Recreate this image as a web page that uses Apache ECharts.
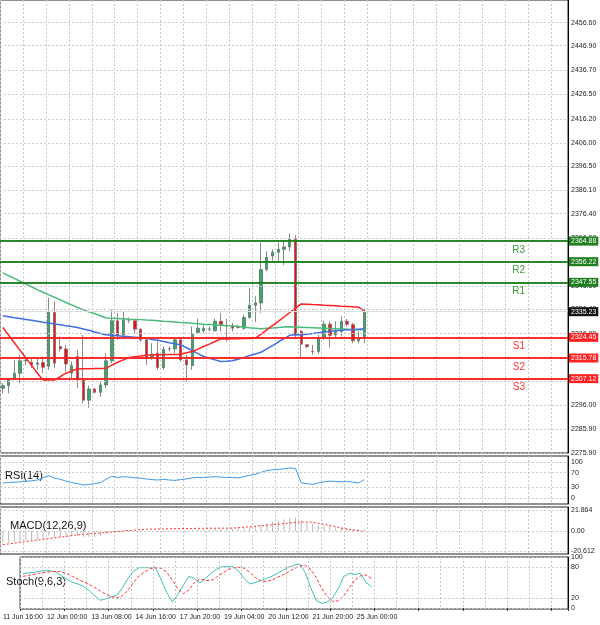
<!DOCTYPE html>
<html><head><meta charset="utf-8">
<script src="https://cdn.jsdelivr.net/npm/echarts@6/dist/echarts.min.js"></script>
<style>html,body{margin:0;padding:0;background:#fff}#c{width:600px;height:625px}</style>
</head><body><div id="c"></div>
<script>
const timeLabels = ['11 Jun 16:00','12 Jun 00:00','13 Jun 08:00','14 Jun 16:00','17 Jun 20:00','19 Jun 04:00','20 Jun 12:00','21 Jun 20:00','25 Jun 00:00'];
// [open, close, low, high]
const candles = [
[2303.1,2304.2,2300.9,2305.2],[2304.2,2306.6,2300.9,2307.3],[2306.9,2309.4,2306.6,2315.0],[2309.4,2314.6,2305.2,2317.1],
[2314.6,2314.7,2312.9,2316.4],[2314.0,2312.9,2311.5,2315.7],[2313.2,2313.7,2310.8,2315.7],[2313.9,2311.9,2309.4,2316.4],
[2312.2,2334.9,2310.8,2341.0],[2334.9,2313.6,2311.5,2339.6],[2320.6,2319.6,2318.5,2324.8],[2319.6,2313.3,2310.1,2321.3],
[2309.4,2312.5,2307.3,2314.3],[2316.4,2306.6,2303.1,2319.2],[2306.6,2298.1,2296.7,2325.5],[2298.1,2302.8,2294.9,2304.2],
[2302.8,2301.4,2300.9,2303.1],[2301.4,2304.5,2299.5,2305.9],[2304.5,2314.6,2303.1,2317.8],[2314.6,2331.4,2313.6,2336.1],
[2331.4,2325.3,2323.4,2334.7],[2325.5,2331.9,2324.8,2335.1],[2331.9,2331.7,2330.5,2332.8],[2331.4,2327.9,2326.2,2331.9],
[2327.9,2323.4,2322.7,2328.3],[2323.4,2316.0,2312.9,2324.4],[2316.0,2317.4,2315.0,2322.0],[2317.8,2311.8,2310.8,2322.7],
[2311.8,2319.5,2310.8,2320.6],[2319.6,2319.7,2318.5,2320.6],[2319.6,2323.4,2317.8,2324.1],[2323.4,2315.0,2314.3,2324.1],
[2315.0,2312.9,2305.9,2317.1],[2312.6,2325.8,2310.8,2329.0],[2326.5,2328.3,2325.8,2332.3],[2327.2,2328.3,2326.2,2329.8],
[2327.9,2328.0,2327.0,2329.0],[2327.2,2331.2,2326.9,2332.3],[2331.2,2329.8,2326.9,2334.7],[2329.5,2329.2,2322.7,2332.3],
[2329.5,2328.3,2326.9,2330.5],[2328.9,2328.6,2328.1,2329.8],[2328.3,2332.8,2327.6,2334.0],[2332.8,2337.9,2332.3,2345.2],
[2337.9,2338.9,2330.9,2341.7],[2338.9,2352.9,2334.7,2364.2],[2352.9,2358.1,2352.2,2360.7],[2358.6,2360.2,2356.7,2361.4],
[2360.2,2361.4,2356.2,2364.2],[2361.4,2362.4,2354.8,2364.9],[2362.4,2365.6,2360.7,2368.0],[2365.6,2325.3,2324.1,2367.4],
[2327.0,2321.6,2316.0,2327.6],[2321.3,2320.6,2319.9,2321.6],[2318.5,2318.4,2317.1,2321.3],[2318.5,2324.4,2317.4,2325.5],
[2324.4,2330.0,2323.4,2331.4],[2330.0,2325.3,2320.2,2331.2],[2325.5,2326.9,2324.4,2331.2],[2326.9,2331.2,2324.8,2333.3],
[2331.2,2330.0,2329.0,2332.3],[2329.8,2323.0,2322.0,2330.5],[2323.0,2323.9,2322.0,2327.0],[2324.4,2335.23,2322.0,2336.8]];
const maRed = [2328.6,2325.4,2322.2,2319,2315.9,2312.7,2309.5,2306.5,2306.5,2306.5,2308,2309.4,2310.4,2311.2,2311.3,2311.3,2311.4,2311.4,2311.5,2312.8,2314,2315,2316,2316.3,2316.6,2316.9,2317.1,2317.2,2317.2,2317.3,2317.3,2317.4,2318,2318.5,2319.5,2320.6,2321.6,2322.7,2323.8,2323.8,2323.9,2323.9,2324,2324,2324.1,2325.8,2327.6,2329.4,2331.2,2333,2334.9,2336.7,2338.5,2338.4,2338.2,2338.1,2337.9,2337.8,2337.7,2337.5,2337.4,2337.3,2337.1,2335.5];
const maBlue = [2333.5,2333.1,2332.7,2332.4,2332,2331.6,2331.2,2330.8,2330.5,2330.1,2329.7,2329.3,2329,2328.6,2328,2327.4,2326.7,2326.1,2325.5,2325.3,2325.1,2324.9,2324.7,2324.5,2324.3,2324.1,2323.6,2323.2,2322.7,2322.2,2321.8,2321.3,2320.1,2318.9,2317.6,2316.4,2315.7,2315,2314.3,2314.4,2314.6,2315.3,2316,2316.8,2317.5,2318.2,2319.6,2321,2322.5,2323.9,2325.3,2325.5,2325.6,2325.8,2326.1,2326.4,2326.7,2327,2327.2,2327.4,2327.6,2327.7,2327.9,2328.1];
const maGreen = [2351.5,2350.3,2349.2,2348,2346.8,2345.7,2344.5,2343.4,2342.3,2341.3,2340.2,2339.1,2338.1,2337,2336.1,2335.2,2334.4,2333.5,2332.6,2332.5,2332.4,2332.3,2332.1,2332,2331.9,2331.7,2331.6,2331.4,2331.2,2331.1,2330.9,2330.7,2330.6,2330.4,2330.2,2330,2329.9,2329.7,2329.5,2329.3,2329.2,2329,2328.8,2328.5,2328.3,2328.1,2328.3,2328.4,2328.6,2328.8,2328.9,2328.8,2328.7,2328.6,2328.5,2328.4,2328.3,2328.2,2328.1,2328,2327.9,2327.8,2327.7,2327.6];
const rsi = [42,43,44,45,46,48,50,56,62,55,52,47,43,40,36,38,40,43,52,60,57,59,58,56,55,53,51,50,52,50,49,51,53,56,57,57,58,59,58,57,57,56,59,63,66,71,76,78,79,81,83,82,42,40,38,42,45,47,46,45,46,44,42,51];
const macdSig = [-14,-13.4,-12.6,-11.8,-11,-10.2,-9.4,-8.6,-7.8,-7,-6.3,-5.6,-4.8,-4,-3.5,-3,-2.5,-2,-1.5,-1,-0.5,0,0.5,1,1.5,1.8,2,2.1,2.2,2.3,2.4,2.5,2.6,2.7,2.8,2.8,2.9,2.9,3,3,3,3.4,3.9,4.4,5,5.5,6,6.6,7.2,7.8,8.4,9,9.3,9.5,9,8,7,5.8,4.6,3,2,1.2,0.4,-0.5];
const macdHist = [-12,-12,-11,-11,-10,-10,-9,-8,-5,-6,-6,-6,-5,-5,-6,-6,-6,-5,-3,-1,-1,0,0.5,0.5,0,-0.5,-1,-1.5,-1,-0.5,0,-1,-1,0.5,1,1.5,1.5,2,2,2,2,2.5,3,4,5,6.5,8,9.5,11,12,13,14,11,9,7,6,5,5,4,4,3.5,2,1.5,2];
const stochK = [67,69,70,72,73,73,70,63,56,50,47,42,34,24,15,18,22,25,40,58,72,79,79,79,79,55,30,12,26,45,62,58,49,58,68,76,81,81,81,72,58,47,50,54,58,62,68,74,80,84,86,70,40,15,9,12,20,38,62,68,66,68,50,42];
const stochD = [62,64,66,68,70,71,72,71,67,62,56,51,46,40,33,27,22,20,24,35,50,63,71,77,79,78,70,55,38,28,35,50,57,54,54,60,68,75,79,80,78,70,60,53,52,55,60,65,71,77,82,84,76,60,38,22,13,14,24,40,55,63,65,58];
const priceTicks = [2456.6,2446.9,2436.7,2426.5,2416.2,2406.0,2396.5,2386.1,2376.4,2366.0,2356.5,2346.1,2336.4,2326.0,2316.3,2305.9,2296.0,2285.9,2275.9];
const resist = [['R1',2347.55],['R2',2356.22],['R3',2364.88]];
const support = [['S1',2324.45],['S2',2315.78],['S3',2307.12]];
const lastPrice = 2335.23;
const rsiTicks = [100,70,30,0];
const macdTicks = [21.864,0,-20.612];
const stochTicks = [100,80,20,0];
const NCAT = 99;

const cats = [];
for (let i=0;i<NCAT;i++) cats.push(i%8===0 && i/8<timeLabels.length ? timeLabels[i/8] : '');
const F = 'Liberation Sans';
const dash = {color:'#c8c8c8',type:[2,2],width:1};
function tickLines(ticks, dec){
  return ticks.map(v=>({yAxis:v,lineStyle:dash,label:{show:true,position:'end',distance:3,formatter:(+v).toFixed(dec),fontSize:7,fontFamily:F,color:'#222'}}));
}
const xAx = (g,show)=>({type:'category',gridIndex:g,data:cats,boundaryGap:true,
  axisLine:{show:false},axisTick:{show:show,interval:(i)=>i%8===0,length:3,lineStyle:{color:'#333'}},
  axisLabel:{show:show,interval:(i)=>i%8===0,fontSize:7,fontFamily:F,color:'#222',margin:5},
  splitLine:{show:true,interval:(i)=>i%4===0,lineStyle:dash}});
const yAx = (g,mn,mx)=>({type:'value',gridIndex:g,min:mn,max:mx,position:'right',axisLabel:{show:false},axisTick:{show:false},axisLine:{show:true,lineStyle:{color:'#000'}},splitLine:{show:false}});
const gb = {left:0,right:32,show:true,borderColor:'#222',borderWidth:1,containLabel:false};
const lvl = (arr,col)=>arr.flatMap(([n,v])=>[
  {yAxis:v,lineStyle:{color:col,width:1.6,type:'solid'},label:{show:true,position:'end',distance:1,formatter:v.toFixed(2),fontSize:7,fontFamily:F,color:'#fff',backgroundColor:col,padding:[1,2]}},
  {yAxis:v,lineStyle:{color:col,width:1.6,type:'solid'},label:{show:true,position:'insideEndBottom',distance:4,formatter:n+'              ',fontSize:10,fontFamily:F,color:col==='#1d7f1d'?'#3a9a3a':'#ff3333'}}
]);
const chart = echarts.init(document.getElementById('c'));
chart.setOption({
  animation:false,
  grid:[Object.assign({top:0,height:453},gb),Object.assign({top:456,height:48},gb),Object.assign({top:507,height:47},gb),Object.assign({top:557,height:52},gb)],
  xAxis:[xAx(0,false),xAx(1,false),xAx(2,false),xAx(3,true)],
  yAxis:[yAx(0,2275.9,2466.1),yAx(1,-16,116),yAx(2,-23.9,25),yAx(3,-2,100)],
  graphic:[
    {type:'text',left:5,top:470,style:{text:'RSI(14)',font:'11px '+F,fill:'#111'}},
    {type:'text',left:10,top:520,style:{text:'MACD(12,26,9)',font:'11px '+F,fill:'#111'}},
    {type:'text',left:6,top:576,style:{text:'Stoch(9,6,3)',font:'11px '+F,fill:'#111'}}
  ],
  series:[
    {type:'candlestick',xAxisIndex:0,yAxisIndex:0,data:candles.map(c=>[c[0],c[1],c[2],c[3]]),barMaxWidth:4,
     itemStyle:{color:'#3aa866',color0:'#ee1111',borderColor:'#557766',borderColor0:'#886666',borderWidth:0.8},
     markLine:{silent:true,symbol:['none','none'],animation:false,data:[
       ...tickLines(priceTicks,2),
       ...lvl(resist,'#1d7f1d'),...lvl(support,'#ff2222'),
       {yAxis:lastPrice,lineStyle:{color:'#ddd',width:1,type:'solid'},label:{show:true,position:'end',distance:1,formatter:lastPrice.toFixed(2),fontSize:7,fontFamily:F,color:'#fff',backgroundColor:'#111',padding:[1,2]}}
     ]}},
    {type:'line',xAxisIndex:0,yAxisIndex:0,data:maGreen,symbol:'none',lineStyle:{color:'#4cbb7a',width:1.5},z:3},
    {type:'line',xAxisIndex:0,yAxisIndex:0,data:maBlue,symbol:'none',lineStyle:{color:'#3f6fe0',width:1.5},z:3},
    {type:'line',xAxisIndex:0,yAxisIndex:0,data:maRed,symbol:'none',lineStyle:{color:'#ff2020',width:1.5},z:3},
    {type:'line',xAxisIndex:1,yAxisIndex:1,data:rsi,symbol:'none',lineStyle:{color:'#3f9ae8',width:1},
     markLine:{silent:true,symbol:['none','none'],data:tickLines(rsiTicks,0)}},
    {type:'bar',xAxisIndex:2,yAxisIndex:2,data:macdHist,barWidth:1,itemStyle:{color:'#b8b8b8'},
     markLine:{silent:true,symbol:['none','none'],data:macdTicks.map(v=>({yAxis:v,lineStyle:dash,label:{show:true,position:'end',distance:3,formatter:v===0?'0.00':String(v),fontSize:7,fontFamily:F,color:'#222'}}))}},
    {type:'line',xAxisIndex:2,yAxisIndex:2,data:macdSig,symbol:'none',lineStyle:{color:'#ff3030',width:1,type:[2,2]}},
    {type:'line',xAxisIndex:3,yAxisIndex:3,data:stochK,symbol:'none',lineStyle:{color:'#40c0b0',width:1},
     markLine:{silent:true,symbol:['none','none'],data:tickLines(stochTicks,0)}},
    {type:'line',xAxisIndex:3,yAxisIndex:3,data:stochD,symbol:'none',lineStyle:{color:'#ff3030',width:1,type:[3,2]}}
  ]
});
</script></body></html>
